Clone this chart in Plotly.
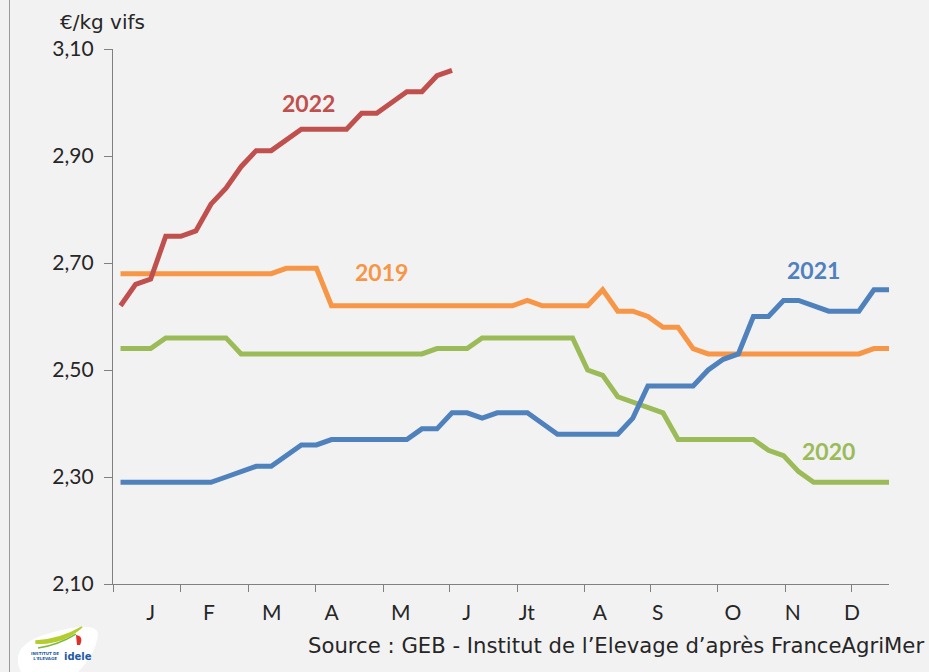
import plotly.graph_objects as go

weeks = list(range(1, 53))

p2019 = [2.68]*11 + [2.69]*3 + [2.62]*13 + [2.63] + [2.62]*4 + [2.65] + \
        [2.61, 2.61, 2.60, 2.58, 2.58, 2.54] + [2.53]*11 + [2.54]*2
p2020 = [2.54]*3 + [2.56]*5 + [2.53]*13 + [2.54]*3 + [2.56]*7 + \
        [2.50, 2.49, 2.45, 2.44, 2.43, 2.42] + [2.37]*6 + [2.35, 2.34, 2.31] + [2.29]*6
p2021 = [2.29]*7 + [2.30, 2.31, 2.32, 2.32, 2.34, 2.36, 2.36] + [2.37]*6 + \
        [2.39, 2.39, 2.42, 2.42, 2.41, 2.42, 2.42, 2.42, 2.40] + [2.38]*5 + [2.41] + \
        [2.47]*4 + [2.50, 2.52, 2.53] + [2.60]*2 + [2.63]*2 + [2.62] + [2.61]*3 + [2.65]*2
p2022 = [2.62, 2.66, 2.67, 2.75, 2.75, 2.76, 2.81, 2.84, 2.88, 2.91, 2.91, 2.93,
         2.95, 2.95, 2.95, 2.95, 2.98, 2.98, 3.00, 3.02, 3.02, 3.05, 3.06]

month_labels = ["J", "F", "M", "A", "M", "J", "Jt", "A", "S", "O", "N", "D"]
month_label_pos = [3.0, 6.87, 11.03, 15.01, 19.6, 23.97, 27.96, 32.81, 36.65, 41.64, 45.62, 49.54]
month_tick_pos = [0.5, 5.01, 9.46, 13.97, 18.48, 22.86, 27.37, 31.82, 36.2, 40.64, 45.16, 49.54]

y_ticks = [2.10, 2.30, 2.50, 2.70, 2.90, 3.10]
y_tick_text = ["2,10", "2,30", "2,50", "2,70", "2,90", "3,10"]

series = [
    ("2019", p2019, "#F79646", 18.35, 2.683),
    ("2020", p2020, "#9BBB59", 48.0, 2.349),
    ("2021", p2021, "#4F81BD", 47.0, 2.687),
    ("2022", p2022, "#C0504D", 13.5, 3.00),
]

NUMFONT = "Lato"
TXTFONT = "DejaVu Sans"
W, H = 929, 672
L, R, T, B = 113, 40, 49, 88


def px(x):
    return (x - L) / (W - L - R)


def py(y):
    return (H - B - y) / (H - T - B)


fig = go.Figure()
for name, vals, color, lx, ly in series:
    fig.add_trace(go.Scatter(
        x=weeks[:len(vals)], y=vals, mode="lines", name=name,
        line=dict(color=color, width=5), hoverinfo="x+y"))
    fig.add_annotation(x=lx, y=ly, text=f"<b>{name}</b>", showarrow=False,
                       font=dict(family=NUMFONT, size=23, color=color))

fig.update_layout(
    width=W, height=H,
    paper_bgcolor="#F2F2F2", plot_bgcolor="#F2F2F2",
    margin=dict(l=L, r=R, t=T, b=B),
    showlegend=False,
    font=dict(family=NUMFONT, color="#262626"),
)
fig.update_xaxes(
    range=[0.5, 52.0], showgrid=False, zeroline=False,
    showline=True, linecolor="#808080", linewidth=1.3,
    tickmode="array", tickvals=month_label_pos, ticktext=month_labels,
    ticks="", tickfont=dict(family=NUMFONT, size=21, color="#262626"),
    ticklabelstandoff=10,
    minor=dict(tickmode="array", tickvals=month_tick_pos, ticks="outside",
               ticklen=7, tickcolor="#808080", tickwidth=1.3, showgrid=False),
)
fig.update_yaxes(
    range=[2.10, 3.10], showgrid=False, zeroline=False,
    showline=True, linecolor="#808080", linewidth=1.3,
    tickmode="array", tickvals=y_ticks, ticktext=y_tick_text,
    ticks="outside", ticklen=8, tickcolor="#808080", tickwidth=1.3,
    tickfont=dict(family=NUMFONT, size=21, color="#262626"),
    ticklabelstandoff=6,
)

# unit label
fig.add_annotation(xref="paper", yref="paper", x=px(102), y=py(22), xanchor="center",
                   yanchor="middle", text="€/kg vifs", showarrow=False,
                   font=dict(family=TXTFONT, size=20, color="#262626"))
# source
fig.add_annotation(xref="paper", yref="paper", x=px(926), y=py(645), xanchor="right",
                   yanchor="middle",
                   text="Source : GEB - Institut de l’Elevage d’après FranceAgriMer",
                   showarrow=False, font=dict(family=TXTFONT, size=21.2, color="#262626"))

# left frame line of the slide
fig.add_shape(type="line", xref="paper", yref="paper", x0=px(9.5), x1=px(9.5),
              y0=py(H + 2), y1=py(-2), line=dict(color="#9a9a9a", width=1))


def path(points_cmds):
    out = []
    for cmd, pts in points_cmds:
        coords = " ".join(f"{px(a):.4f},{py(b):.4f}" for a, b in pts)
        out.append(f"{cmd} {coords}")
    return " ".join(out)


# logo approximation
fig.add_shape(type="path", xref="paper", yref="paper",
              path=path([("M", [(22, 674)]), ("Q", [(6, 645), (50, 633)]),
                         ("Q", [(96, 620), (98, 634)]), ("Q", [(96, 655), (76, 674)]),
                         ("Z", [])]),
              fillcolor="#FFFFFF", line=dict(width=0))
fig.add_shape(type="path", xref="paper", yref="paper",
              path=path([("M", [(36, 641)]), ("Q", [(60, 640), (82, 627)]),
                         ("Q", [(62, 645), (36, 643)]), ("Z", [])]),
              fillcolor="#B5CC2E", line=dict(color="#B5CC2E", width=1.5))
fig.add_shape(type="path", xref="paper", yref="paper",
              path=path([("M", [(38, 648)]), ("Q", [(58, 645), (76, 634)])]),
              line=dict(color="#7DB83A", width=1.5))
fig.add_shape(type="path", xref="paper", yref="paper",
              path=path([("M", [(76, 635)]), ("Q", [(84, 636), (80, 645)]),
                         ("L", [(77, 645)]), ("Z", [])]),
              fillcolor="#E0302A", line=dict(width=0))
fig.add_annotation(xref="paper", yref="paper", x=px(62), y=py(656), xanchor="left",
                   yanchor="middle", text="<b>idele</b>", showarrow=False,
                   font=dict(family="DejaVu Sans", size=10, color="#1F5AA6"))
fig.add_annotation(xref="paper", yref="paper", x=px(61), y=py(656), xanchor="right",
                   yanchor="middle", text="<b>INSTITUT DE<br>L'ELEVAGE</b>", showarrow=False,
                   font=dict(family="DejaVu Sans", size=4, color="#1F5AA6"))

fig.write_html("out.html",
               config={"displayModeBar": False},
               post_script="document.body.style.margin='0';"
                           "document.body.style.background='#F2F2F2';"
                           "document.body.style.overflow='hidden';")
